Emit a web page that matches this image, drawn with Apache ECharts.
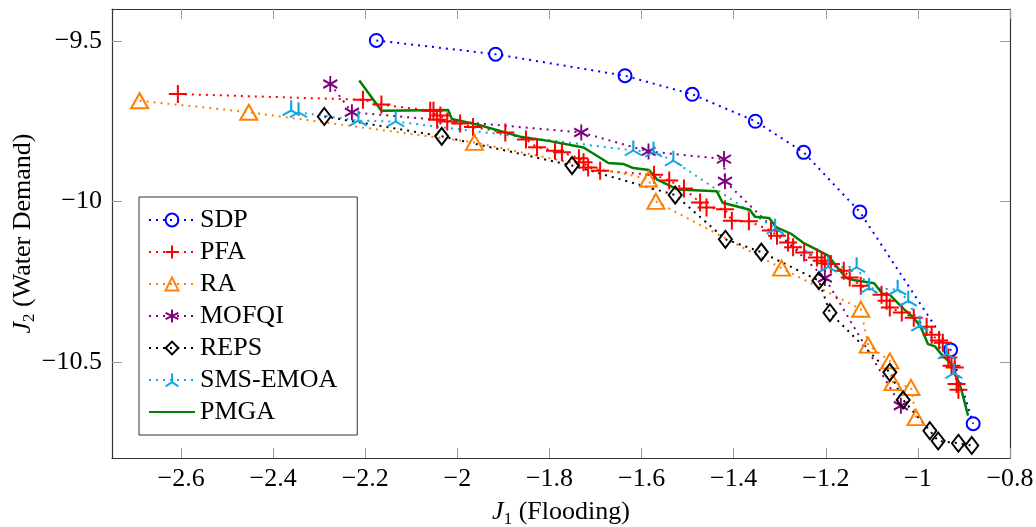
<!DOCTYPE html>
<html>
<head>
<meta charset="utf-8">
<script src="https://cdn.jsdelivr.net/npm/echarts@6/dist/echarts.min.js"></script>
<style>
html, body { margin: 0; padding: 0; background: #fff; }
#main { width: 1036px; height: 527px; }
</style>
</head>
<body>
<div id="main"></div>
<script>
// tick labels
const xTicks = [-2.6, -2.4, -2.2, -2, -1.8, -1.6, -1.4, -1.2, -1, -0.8]
const yTicks = [-10.5, -10, -9.5]

// [J1, J2] per method
const sdp = [[-2.176, -9.498], [-1.917, -9.541], [-1.636, -9.608], [-1.490, -9.666], [-1.353, -9.750],
    [-1.248, -9.847], [-1.126, -10.033], [-0.929, -10.463], [-0.880, -10.693]]
const pfa = [[-2.607, -9.665], [-2.205, -9.683], [-2.165, -9.698], [-2.059, -9.717], [-2.052, -9.717],
    [-2.044, -9.745], [-2.037, -9.732], [-2.022, -9.751], [-1.994, -9.757], [-1.966, -9.768],
    [-1.896, -9.785], [-1.851, -9.807], [-1.827, -9.831], [-1.788, -9.842], [-1.773, -9.847],
    [-1.736, -9.865], [-1.726, -9.878], [-1.716, -9.894], [-1.690, -9.904], [-1.573, -9.917],
    [-1.540, -9.935], [-1.508, -9.960], [-1.473, -10.003], [-1.459, -10.019], [-1.419, -10.024],
    [-1.404, -10.060], [-1.367, -10.062], [-1.319, -10.091], [-1.306, -10.107], [-1.282, -10.128],
    [-1.271, -10.143], [-1.247, -10.159], [-1.219, -10.175], [-1.209, -10.185], [-1.202, -10.193],
    [-1.189, -10.195], [-1.161, -10.216], [-1.148, -10.237], [-1.124, -10.263], [-1.079, -10.291],
    [-1.068, -10.310], [-1.061, -10.331], [-1.035, -10.346], [-1.009, -10.363], [-0.981, -10.391],
    [-0.970, -10.416], [-0.954, -10.434], [-0.946, -10.441], [-0.934, -10.487], [-0.927, -10.512],
    [-0.920, -10.518], [-0.916, -10.569], [-0.912, -10.587]]
const ra = [[-2.690, -9.686], [-2.453, -9.722], [-1.963, -9.816], [-1.585, -9.930], [-1.569, -10.000],
    [-1.296, -10.208], [-1.124, -10.336], [-1.108, -10.448], [-1.061, -10.497], [-1.054, -10.565],
    [-1.015, -10.580], [-1.004, -10.674]]
const mofqi = [[-2.276, -9.634], [-2.229, -9.722], [-1.731, -9.785], [-1.585, -9.844], [-1.421, -9.868],
    [-1.419, -9.937], [-1.202, -10.239], [-1.037, -10.637]]
const reps = [[-2.289, -9.735], [-2.034, -9.797], [-1.751, -9.888], [-1.527, -9.980], [-1.418, -10.118],
    [-1.340, -10.158], [-1.215, -10.247], [-1.191, -10.347], [-1.061, -10.533], [-1.032, -10.619],
    [-0.974, -10.715], [-0.956, -10.747], [-0.912, -10.754], [-0.883, -10.761]]
const smsemoa = [[-2.361, -9.716], [-2.345, -9.722], [-2.215, -9.748], [-2.134, -9.751], [-1.618, -9.841],
    [-1.574, -9.845], [-1.531, -9.873], [-1.310, -10.085], [-1.195, -10.204], [-1.133, -10.205],
    [-1.106, -10.270], [-1.044, -10.275], [-1.021, -10.310], [-0.996, -10.388], [-0.938, -10.475],
    [-0.922, -10.536]]
const pmga = [[-2.213, -9.623], [-2.165, -9.717], [-2.020, -9.715], [-2.012, -9.743], [-1.955, -9.761],
    [-1.864, -9.798], [-1.799, -9.812], [-1.726, -9.832], [-1.672, -9.880], [-1.640, -9.883],
    [-1.618, -9.896], [-1.584, -9.902], [-1.566, -9.932], [-1.521, -9.963], [-1.437, -9.968],
    [-1.424, -10.004], [-1.365, -10.026], [-1.354, -10.048], [-1.323, -10.052], [-1.307, -10.081],
    [-1.274, -10.102], [-1.249, -10.129], [-1.223, -10.148], [-1.195, -10.169], [-1.176, -10.204],
    [-1.155, -10.239], [-1.140, -10.245], [-1.095, -10.255], [-1.077, -10.288], [-1.061, -10.291],
    [-1.031, -10.335], [-1.010, -10.362], [-0.994, -10.391], [-0.978, -10.445], [-0.963, -10.452],
    [-0.950, -10.475], [-0.927, -10.507], [-0.907, -10.580], [-0.891, -10.668]]

const FONT = 'Liberation Serif'
const minus = v => String(Math.round(v * 10) / 10).replace('-', '\u2212')

const plus = 'path://M-1 0L1 0M0 -1L0 1'
const aster = 'path://M0 -1L0 1M-0.866 -0.5L0.866 0.5M-0.866 0.5L0.866 -0.5'
const tri = 'path://M0 0L0 -1M0 0L-0.866 0.5M0 0L0.866 0.5'

function dotted(name, data, color, symbol, size, extra) {
    return Object.assign({
        name: name,
        type: 'line',
        data: data,
        symbol: symbol,
        symbolSize: size,
        lineStyle: { color: color, width: 2, type: [2, 5] },
        itemStyle: { color: 'none', borderColor: color, borderWidth: 2 }
    }, extra || {})
}

var chartDom = document.getElementById('main')
var myChart = echarts.init(chartDom)
var rich = {
    i: { fontFamily: FONT, fontSize: 26, fontStyle: 'italic', lineHeight: 30 },
    s: { fontFamily: FONT, fontSize: 17, lineHeight: 20, padding: [14, 0, 0, 0] },
    t: { fontFamily: FONT, fontSize: 26, lineHeight: 30 }
}
var frame = { show: true, lineStyle: { color: '#333', width: 1.2 } }
var tickX = { show: true, inside: true, length: 10, customValues: xTicks, lineStyle: { color: '#999' } }
var tickY = { show: true, inside: true, length: 10, customValues: yTicks, lineStyle: { color: '#999' } }

var option = {
    animation: false,
    backgroundColor: '#fff',
    grid: { left: 112, right: 26, top: 9, bottom: 69, outerBoundsMode: 'none', containLabel: false },
    xAxis: [
        {
            type: 'value', min: -2.75, max: -0.8,
            axisLine: frame, axisTick: tickX, splitLine: { show: false },
            axisLabel: { customValues: xTicks, formatter: minus, margin: 8, fontFamily: FONT, fontSize: 26, color: '#000' },
            name: '{i|J}{s|1}{t| (Flooding)}', nameLocation: 'middle', nameGap: 38,
            nameTextStyle: { color: '#000', rich: rich }
        },
        {
            type: 'value', position: 'top', min: -2.75, max: -0.8,
            axisLine: frame, axisTick: tickX, axisLabel: { show: false }, splitLine: { show: false }
        }
    ],
    yAxis: [
        {
            type: 'value', min: -10.8, max: -9.4,
            axisLine: frame, axisTick: tickY, splitLine: { show: false },
            axisLabel: { customValues: yTicks, formatter: minus, margin: 10, fontFamily: FONT, fontSize: 26, color: '#000' },
            name: '{i|J}{s|2}{t| (Water Demand)}', nameLocation: 'middle', nameGap: 89, nameRotate: 90,
            nameMoveOverlap: false,
            nameTextStyle: { color: '#000', rich: rich, verticalAlign: 'middle' }
        },
        {
            type: 'value', position: 'right', min: -10.8, max: -9.4,
            axisLine: frame, axisTick: tickY, axisLabel: { show: false }, splitLine: { show: false }
        }
    ],
    legend: {
        orient: 'vertical',
        left: 139, top: 197,
        padding: [10, 20, 10, 9],
        itemWidth: 46, itemHeight: 16, itemGap: 6,
        borderColor: '#333', borderWidth: 1, backgroundColor: '#fff',
        textStyle: { fontFamily: FONT, fontSize: 26, lineHeight: 26, color: '#000' },
        data: ['SDP', 'PFA', 'RA', 'MOFQI', 'REPS', 'SMS-EMOA',
            { name: 'PMGA', itemStyle: { color: 'none', borderColor: 'none', borderWidth: 0, opacity: 0 } }]
    },
    series: [
        dotted('SDP', sdp, '#0000ff', 'circle', 13),
        dotted('PFA', pfa, '#ff0000', plus, 18),
        dotted('RA', ra, '#ff8000', 'triangle', [17, 15]),
        dotted('MOFQI', mofqi, '#800080', aster, [14, 16]),
        dotted('REPS', reps, '#000000', 'diamond', [13, 17]),
        dotted('SMS-EMOA', smsemoa, '#12a6e6', tri, [17, 15], { symbolOffset: [0, -2.5] }),
        {
            name: 'PMGA', type: 'line', data: pmga, symbol: 'none',
            lineStyle: { color: '#008000', width: 2.5 },
            itemStyle: { color: '#008000' }
        }
    ]
}
option && myChart.setOption(option)
</script>
</body>
</html>
